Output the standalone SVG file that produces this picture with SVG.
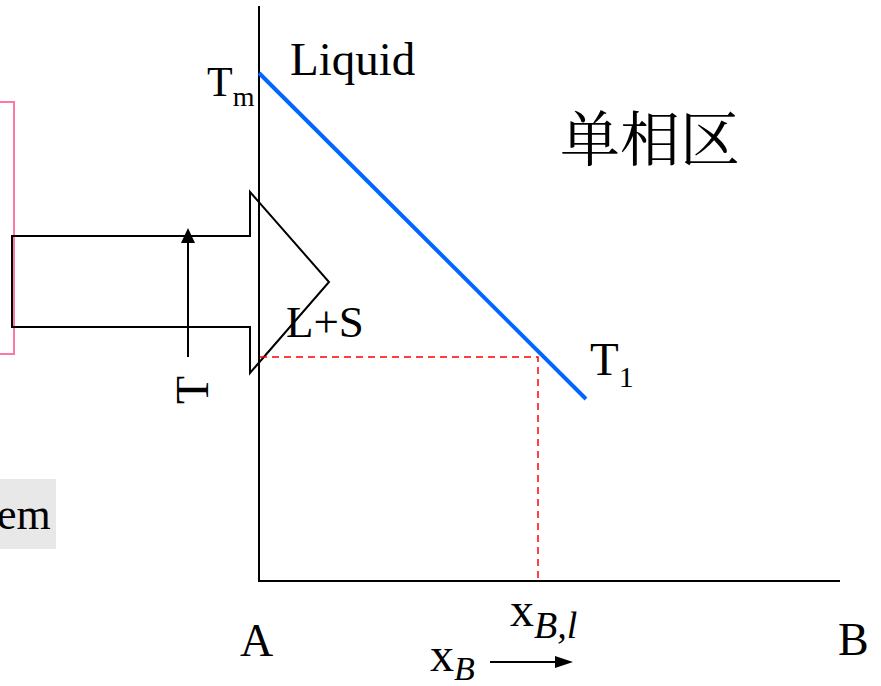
<svg xmlns="http://www.w3.org/2000/svg" width="881" height="686" viewBox="0 0 881 686">
<style>
.t{font-family:"Liberation Serif","Times New Roman",serif;fill:#000}
.cjk{font-family:"Noto Serif CJK SC","Noto Sans CJK SC",serif;fill:#000}
.ln{stroke:#000;stroke-width:2;fill:none}
</style>
<rect width="881" height="686" fill="#fff"/>
<g id="pink-frame">
<rect x="-20" y="102" width="34" height="252" fill="none" stroke="#ff77a8" stroke-width="2"/>
</g>
<g id="grey-box">
<rect x="0" y="479" width="56" height="70" fill="#e8e8e8"/>
<text class="t" x="-3" y="529" font-size="44">em</text>
</g>
<g id="block-arrow">
<path class="ln" d="M12,236 L250,236 L250,192 L329,282 L250,373 L250,327 L12,327 Z"/>
</g>
<g id="connectors">
<line x1="259" y1="6" x2="259" y2="581" stroke="#000" stroke-width="2"/>
<line x1="258" y1="581" x2="840" y2="581" stroke="#000" stroke-width="2"/>
<line x1="188" y1="357" x2="188" y2="240" stroke="#000" stroke-width="2"/>
<path d="M181,243 L188,228 L195,243 Z" fill="#000"/>
<line x1="259" y1="73" x2="586" y2="399" stroke="#0066ff" stroke-width="4"/>
<path d="M260,357 L538,357 L538,581" fill="none" stroke="#ff0000" stroke-width="1.5" stroke-dasharray="7,5"/>
<line x1="490" y1="662" x2="558" y2="662" stroke="#000" stroke-width="2"/>
<path d="M555,656 L573,662 L555,668 Z" fill="#000"/>
</g>
<g id="labels">
<text class="t" x="290" y="75" font-size="47">Liquid</text>
<text class="t" x="207" y="96" font-size="42">T<tspan font-size="28" dy="10">m</tspan></text>
<text class="cjk" x="560" y="161" font-size="60">单相区</text>
<text class="t" x="286" y="337" font-size="45">L+S</text>
<text class="t" x="590" y="375" font-size="47">T<tspan font-size="30" dy="12">1</tspan></text>
<text class="t" transform="translate(208,404) rotate(-90)" font-size="46">T</text>
<text class="t" x="240" y="656" font-size="46">A</text>
<text class="t" x="838" y="655" font-size="46">B</text>
<text class="t" x="510" y="626" font-size="48">x<tspan font-size="38" font-style="italic" dy="12">B,l</tspan></text>
<text class="t" x="430" y="671" font-size="48">x<tspan font-size="34" font-style="italic" dy="9">B</tspan></text>
</g>
</svg>
